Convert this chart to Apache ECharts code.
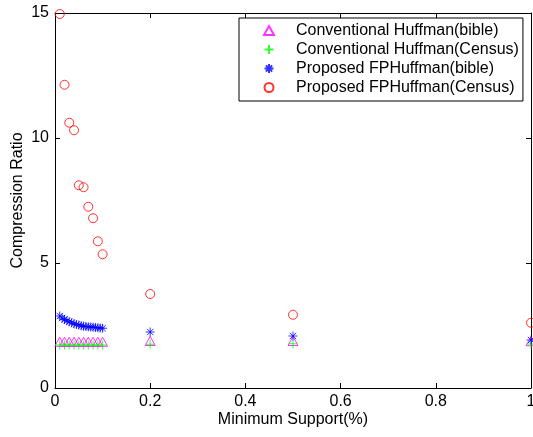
<!DOCTYPE html>
<html>
<head>
<meta charset="utf-8">
<script src="https://cdn.jsdelivr.net/npm/echarts@6/dist/echarts.min.js"></script>
<style>html,body{margin:0;padding:0;background:#fff;}#c{width:533px;height:437px;}</style>
</head>
<body>
<div id="c"></div>
<script>
// ---- data ----
const seriesNames = ['Conventional Huffman(bible)', 'Conventional Huffman(Census)', 'Proposed FPHuffman(bible)', 'Proposed FPHuffman(Census)'];
const convX = [0.01, 0.02, 0.03, 0.04, 0.05, 0.06, 0.07, 0.08, 0.09, 0.1, 0.2, 0.5, 1];
const convBible = [1.85, 1.85, 1.85, 1.85, 1.85, 1.85, 1.85, 1.85, 1.85, 1.85, 1.88, 1.88, 1.87];
const convCensus = [1.72, 1.72, 1.72, 1.72, 1.72, 1.72, 1.72, 1.72, 1.72, 1.72, 1.75, 1.77, 1.76];
const fpBibleX = [0.01, 0.015, 0.02, 0.025, 0.03, 0.035, 0.04, 0.045, 0.05, 0.055, 0.06, 0.065, 0.07, 0.075, 0.08, 0.085, 0.09, 0.095, 0.1, 0.2, 0.5, 1];
const fpBible = [2.88, 2.80, 2.74, 2.69, 2.65, 2.61, 2.57, 2.54, 2.52, 2.49, 2.47, 2.46, 2.45, 2.44, 2.43, 2.42, 2.41, 2.40, 2.39, 2.24, 2.08, 1.92];
const fpCensusX = [0.01, 0.02, 0.03, 0.04, 0.05, 0.06, 0.07, 0.08, 0.09, 0.1, 0.2, 0.5, 1];
const fpCensus = [14.96, 12.13, 10.61, 10.31, 8.11, 8.03, 7.25, 6.79, 5.87, 5.35, 3.76, 2.93, 2.61];
const xTicks = [0, 0.2, 0.4, 0.6, 0.8, 1];
const yTicks = [0, 5, 10, 15];

const pair = (xs, ys) => xs.map((x, i) => [x, ys[i]]);
const FONT = 'Liberation Sans, Arial, Helvetica, sans-serif';

const chart = echarts.init(document.getElementById('c'), null, {renderer: 'canvas'});
const axisCommon = {
  type: 'value',
  axisLine: {show: true, onZero: false, lineStyle: {color: '#000', width: 1}},
  axisTick: {show: true, inside: true, length: 5, lineStyle: {color: '#000'}},
  splitLine: {show: false}
};
chart.setOption({
  animation: false,
  backgroundColor: '#fff',
  grid: {left: 55, right: 2, top: 13, bottom: 49, containLabel: false, outerBoundsMode: 'none'},
  legend: {
    data: seriesNames,
    orient: 'vertical',
    left: 239, top: 18,
    padding: [3, 4, 4, 24],
    itemWidth: 44, itemHeight: 9, itemGap: 0,
    borderColor: '#000', borderWidth: 1, backgroundColor: '#fff',
    textStyle: {color: '#000', fontFamily: FONT, fontSize: 16, lineHeight: 19}
  },
  xAxis: [
    Object.assign({}, axisCommon, {
      min: 0, max: 1, interval: 0.2, position: 'bottom',
      name: 'Minimum Support(%)', nameLocation: 'middle', nameGap: 24, nameMoveOverlap: false,
      nameTextStyle: {color: '#000', fontFamily: FONT, fontSize: 16},
      axisLabel: {color: '#000', fontFamily: FONT, fontSize: 16, margin: 6,
        formatter: v => { const t = xTicks.find(k => Math.abs(k - v) < 1e-9); return t === undefined ? '' : String(t); }}
    }),
    Object.assign({}, axisCommon, {min: 0, max: 1, interval: 0.2, position: 'top', axisLabel: {show: false}})
  ],
  yAxis: [
    Object.assign({}, axisCommon, {
      min: 0, max: 15, interval: 5, position: 'left',
      name: 'Compression Ratio', nameLocation: 'middle', nameGap: 29, nameMoveOverlap: false,
      nameTextStyle: {color: '#000', fontFamily: FONT, fontSize: 16},
      axisLabel: {color: '#000', fontFamily: FONT, fontSize: 16, margin: 6,
        formatter: v => { const t = yTicks.find(k => Math.abs(k - v) < 1e-9); return t === undefined ? '' : String(t); }}
    }),
    Object.assign({}, axisCommon, {min: 0, max: 15, interval: 5, position: 'right', axisLabel: {show: false}})
  ],
  series: [
    {name: seriesNames[0], type: 'scatter', symbol: 'path://M5,0L10,9L0,9Z', symbolSize: 10, symbolKeepAspect: true,
     itemStyle: {color: 'transparent', borderColor: '#ff00ff', borderWidth: 1},
     data: pair(convX, convBible)},
    {name: seriesNames[1], type: 'scatter', symbol: 'path://M5,0L5,10M0,5L10,5', symbolSize: 9, symbolKeepAspect: true,
     itemStyle: {color: 'transparent', borderColor: '#00ff00', borderWidth: 1},
     data: pair(convX, convCensus)},
    {name: seriesNames[2], type: 'scatter', symbol: 'path://M5,0L5,10M0,5L10,5M1.5,1.5L8.5,8.5M1.5,8.5L8.5,1.5', symbolSize: 9, symbolKeepAspect: true,
     itemStyle: {color: 'transparent', borderColor: '#0000ff', borderWidth: 1},
     data: pair(fpBibleX, fpBible)},
    {name: seriesNames[3], type: 'scatter', symbol: 'circle', symbolSize: 9, symbolKeepAspect: true,
     itemStyle: {color: 'transparent', borderColor: '#ff0000', borderWidth: 1},
     data: pair(fpCensusX, fpCensus)}
  ]
});
</script>
</body>
</html>
